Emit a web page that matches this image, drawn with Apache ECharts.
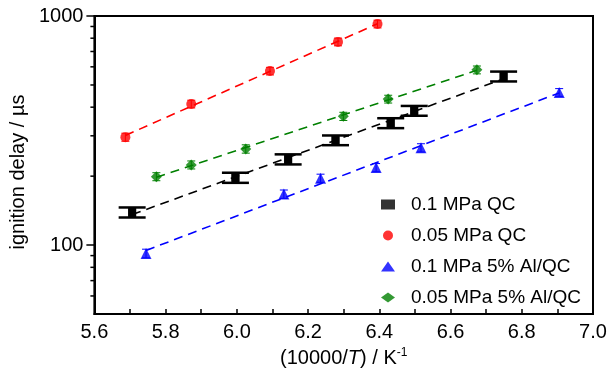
<!DOCTYPE html>
<html>
<head>
<meta charset="utf-8">
<script src="https://cdn.jsdelivr.net/npm/echarts@6/dist/echarts.min.js"></script>
<style>html,body{margin:0;padding:0;background:#fff}#c{width:614px;height:373px}</style>
</head>
<body>
<div id="c"></div>
<script>
// ---- data ----
const xMin = 5.6, xMax = 7.0, xStep = 0.2;
const yMin = 50, yMax = 1000;
const yTickLabels = [100, 1000];
const yMinorTicks = [60, 70, 80, 90, 200, 300, 400, 500, 600, 700, 800, 900];

const names = ['0.1 MPa QC', '0.05 MPa QC', '0.1 MPa 5% Al/QC', '0.05 MPa 5% Al/QC'];

const qc01T   = [5.706, 5.996, 6.144, 6.277, 6.432, 6.498, 6.749];
const qc01Tau = [139, 197, 237, 287, 341, 386, 545];
const qc01Err = [7, 10, 12, 14, 17, 19, 27];

const qc005T   = [5.687, 5.872, 6.093, 6.284, 6.395];
const qc005Tau = [296, 413, 575, 771, 923];
const qc005Err = [12, 16, 22, 30, 36];

const al01T   = [5.745, 6.132, 6.235, 6.391, 6.517, 6.905];
const al01Tau = [92, 167, 196, 218, 266, 464];
const al01Err = [4, 7, 8, 9, 11, 18];

const al005T   = [5.774, 5.872, 6.025, 6.299, 6.425, 6.674];
const al005Tau = [199, 224, 263, 365, 434, 582];
const al005Err = [8, 9, 11, 15, 17, 23];

// ---- helpers ----
const FONT = 'Liberation Sans';
function pts(xs, ys) { return xs.map((x, i) => [x, ys[i]]); }
function errData(xs, ys, es) { return xs.map((x, i) => [x, ys[i] - es[i], ys[i] + es[i]]); }
function fitLine(xs, ys) {
  const n = xs.length;
  const ly = ys.map(v => Math.log10(v));
  const mx = xs.reduce((a, b) => a + b, 0) / n;
  const my = ly.reduce((a, b) => a + b, 0) / n;
  let sxy = 0, sxx = 0;
  for (let i = 0; i < n; i++) { sxy += (xs[i] - mx) * (ly[i] - my); sxx += (xs[i] - mx) ** 2; }
  const b = sxy / sxx, a = my - b * mx;
  const x0 = Math.min(...xs), x1 = Math.max(...xs);
  return [[x0, Math.pow(10, a + b * x0)], [x1, Math.pow(10, a + b * x1)]];
}
function errRender(color, capW, barW, capLW) {
  return function (params, api) {
    const x = api.value(0);
    const p1 = api.coord([x, api.value(1)]);
    const p2 = api.coord([x, api.value(2)]);
    return {
      type: 'group',
      children: [
        { type: 'line', shape: { x1: p1[0], y1: p1[1], x2: p2[0], y2: p2[1] }, style: { stroke: color, lineWidth: barW } },
        { type: 'line', shape: { x1: p1[0] - capW / 2, y1: p1[1], x2: p1[0] + capW / 2, y2: p1[1] }, style: { stroke: color, lineWidth: capLW } },
        { type: 'line', shape: { x1: p2[0] - capW / 2, y1: p2[1], x2: p2[0] + capW / 2, y2: p2[1] }, style: { stroke: color, lineWidth: capLW } }
      ]
    };
  };
}
const sets = [
  { name: names[0], xs: qc01T, ys: qc01Tau, es: qc01Err, color: '#000000', symbol: 'rect', size: 8, capW: 27, barW: 8, capLW: 2.5 },
  { name: names[1], xs: qc005T, ys: qc005Tau, es: qc005Err, color: '#ff0000', symbol: 'circle', size: 10, capW: 8, barW: 1, capLW: 1 },
  { name: names[2], xs: al01T, ys: al01Tau, es: al01Err, color: '#0000ff', symbol: 'triangle', size: 11, capW: 8, barW: 1, capLW: 1 },
  { name: names[3], xs: al005T, ys: al005Tau, es: al005Err, color: '#008000', symbol: 'diamond', size: 11, capW: 8, barW: 1, capLW: 1 }
];

const series = [];
sets.forEach(s => {
  series.push({
    type: 'line', data: fitLine(s.xs, s.ys), symbol: 'none', silent: true, z: 1,
    lineStyle: { color: s.color, width: 1.6, type: [9, 6] }
  });
});
sets.forEach(s => {
  series.push({
    type: 'custom', data: errData(s.xs, s.ys, s.es), z: 3, silent: true,
    renderItem: errRender(s.color, s.capW, s.barW, s.capLW)
  });
  series.push({
    type: 'scatter', name: s.name, data: pts(s.xs, s.ys), symbol: s.symbol, symbolSize: s.size, z: 4,
    itemStyle: { color: s.color }
  });
});
// minor ticks on the log axis
series.push({
  type: 'custom', silent: true, clip: false, z: 5,
  data: yMinorTicks.map(v => [xMin, v]),
  renderItem: function (params, api) {
    const p = api.coord([api.value(0), api.value(1)]);
    return { type: 'line', shape: { x1: p[0] - 4, y1: p[1], x2: p[0], y2: p[1] }, style: { stroke: '#000', lineWidth: 1.5 } };
  }
});

const chart = echarts.init(document.getElementById('c'), null, { renderer: 'canvas' });
chart.setOption({
  animation: false,
  backgroundColor: '#fff',
  textStyle: { fontFamily: FONT },
  grid: { left: 94, right: 21, top: 16, bottom: 58, show: true, borderColor: '#000', borderWidth: 2, backgroundColor: 'transparent' },
  legend: {
    orient: 'vertical', left: 376, top: 190, itemGap: 12, itemWidth: 14, itemHeight: 10,
    data: names.map((n, i) => ({ name: n, icon: sets[i].symbol, itemHeight: i === 0 ? 8 : 10 })),
    textStyle: { fontSize: 19, color: '#000', fontFamily: FONT, padding: [0, 0, 0, 11] }
  },
  xAxis: {
    type: 'value', min: xMin, max: xMax, interval: xStep,
    name: '(10000/{i|T}) / K{sup|-1}',
    nameLocation: 'middle', nameGap: 30,
    nameTextStyle: {
      fontSize: 20, color: '#000', fontFamily: FONT,
      rich: { i: { fontSize: 20, fontStyle: 'italic', fontFamily: FONT, color: '#000' },
              sup: { fontSize: 12, verticalAlign: 'top', fontFamily: FONT, color: '#000', padding: [0, 0, 10, 0] } }
    },
    axisLine: { lineStyle: { color: '#000', width: 2 } },
    axisTick: { inside: true, length: 5, lineStyle: { color: '#000', width: 1.5 } },
    minorTick: { show: true, splitNumber: 2, length: 5, lineStyle: { color: '#000', width: 1.5 } },
    axisLabel: { fontSize: 20, color: '#000', margin: 8, fontFamily: FONT, formatter: v => v.toFixed(1) },
    splitLine: { show: false }
  },
  yAxis: {
    type: 'log', logBase: 10, min: yMin, max: yMax,
    name: 'ignition delay / µs', nameLocation: 'middle', nameGap: 61,
    nameTextStyle: { fontSize: 20, color: '#000', fontFamily: FONT, padding: [0, 14, 0, 0] },
    axisLine: { show: true, lineStyle: { color: '#000', width: 2 } },
    axisTick: { show: true, inside: false, length: 8, lineStyle: { color: '#000', width: 1.5 } },
    axisLabel: {
      fontSize: 20, color: '#000', margin: 11, fontFamily: FONT, showMinLabel: false,
      formatter: v => (yTickLabels.indexOf(Math.round(v)) >= 0 ? String(Math.round(v)) : '')
    },
    splitLine: { show: false }
  },
  series: series
});
</script>
</body>
</html>
